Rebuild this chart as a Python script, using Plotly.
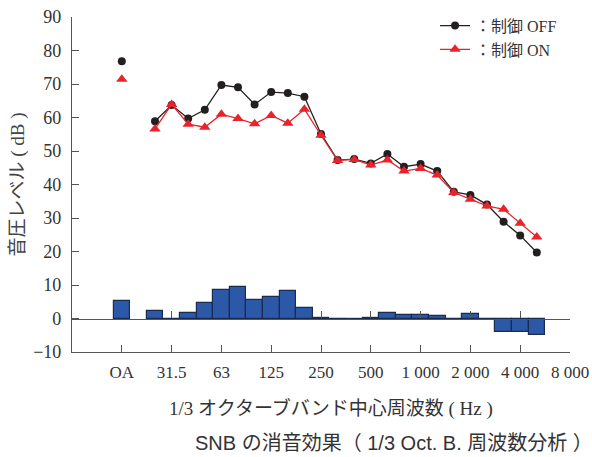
import plotly.graph_objects as go

# 1/3 octave band centre frequencies (Hz) of the measured spectrum
bands = ["25", "31.5", "40", "50", "63", "80", "100", "125", "160", "200", "250", "315",
         "400", "500", "630", "800", "1000", "1250", "1600", "2000", "2500", "3150",
         "4000", "5000"]

# Overall (OA) sound pressure levels, dB
oa_off = 76.8
oa_on = 71.4

# Band sound pressure levels, dB
level_off = [58.9, 63.7, 59.7, 62.3, 69.7, 69.0, 63.9, 67.6, 67.3, 66.2, 55.1, 47.3,
             47.6, 46.3, 49.1, 45.3, 46.1, 44.0, 37.8, 36.9, 34.0, 28.9, 24.8, 19.7]
level_on = [56.6, 63.9, 58.0, 57.1, 61.0, 59.7, 58.1, 60.6, 58.3, 62.5, 54.7, 47.2,
            47.5, 45.8, 47.3, 44.0, 44.8, 42.8, 37.6, 35.6, 33.6, 32.6, 28.4, 24.3]

# Noise reduction (control OFF minus control ON), dB
reduction_oa = 5.2
reduction = [2.1, 0.0, 1.5, 4.7, 8.4, 9.4, 5.5, 6.3, 8.3, 3.2, 0.3, 0.0,
             -0.4, 0.3, 1.5, 1.0, 1.0, 0.7, 0.0, 1.2, 0.0, -4.1, -4.1, -4.9]

tick_labels = ["OA", "31.5", "63", "125", "250", "500", "1 000", "2 000", "4 000", "8 000"]

# Horizontal layout: one unit per 1/3 octave band, 31.5 Hz at 0, OA set apart at -3
band_x = [i - 1 for i in range(len(bands))]
oa_x = -3
tick_x = [oa_x] + [3 * k for k in range(len(tick_labels) - 1)]

SERIF = "Liberation Serif, Noto Sans CJK JP, serif"
SANS = "Liberation Sans, Noto Sans CJK JP, sans-serif"
AXIS = "#555555"
TEXT = "#333333"
BLACK = "#231f20"
RED = "#e8232b"

fig = go.Figure()

fig.add_trace(go.Bar(
    x=[oa_x] + band_x, y=[reduction_oa] + reduction, width=1,
    marker=dict(color="#2c59a7", line=dict(color="#1b2b50", width=1.2)),
    showlegend=False, hoverinfo="skip",
))

fig.add_trace(go.Scatter(
    x=band_x, y=level_off, mode="lines+markers", name="：制御 OFF",
    line=dict(color=BLACK, width=1.3),
    marker=dict(symbol="circle", size=8, color=BLACK),
))
fig.add_trace(go.Scatter(
    x=band_x, y=level_on, mode="lines+markers", name="：制御 ON",
    line=dict(color=RED, width=1.3),
    marker=dict(symbol="triangle-up", size=10, color=RED),
))
fig.add_trace(go.Scatter(
    x=[oa_x], y=[oa_off], mode="markers", showlegend=False,
    marker=dict(symbol="circle", size=8, color=BLACK),
))
fig.add_trace(go.Scatter(
    x=[oa_x], y=[oa_on], mode="markers", showlegend=False,
    marker=dict(symbol="triangle-up", size=10, color=RED),
))

# empty trace that carries the tick line drawn through y = 0
fig.add_trace(go.Scatter(x=[None], y=[None], xaxis="x2", showlegend=False, hoverinfo="skip"))

y_ticks = list(range(-10, 91, 10))
y_text = [("−" + str(-v)) if v < 0 else str(v) for v in y_ticks]

fig.update_layout(
    width=592, height=457,
    margin=dict(l=72, r=22, t=17, b=105, autoexpand=False),
    paper_bgcolor="white", plot_bgcolor="white",
    bargap=0,
    xaxis=dict(
        range=[-6, 24], tickvals=tick_x, ticktext=tick_labels,
        showline=True, linecolor=AXIS, linewidth=1.2,
        ticks="inside", ticklen=7, tickcolor=AXIS, tickwidth=1.2,
        showgrid=False, zeroline=False, ticklabelstandoff=4,
        tickfont=dict(family=SERIF, size=17, color=TEXT),
    ),
    xaxis2=dict(
        overlaying="x", anchor="free", position=0.1, side="bottom",
        range=[-6, 24], tickvals=tick_x, showticklabels=False,
        showline=True, linecolor=AXIS, linewidth=1.2,
        ticks="inside", ticklen=7, tickcolor=AXIS, tickwidth=1.2,
        showgrid=False, zeroline=False,
    ),
    yaxis=dict(
        range=[-10, 90], tickvals=y_ticks, ticktext=y_text,
        showline=True, linecolor=AXIS, linewidth=1.2,
        ticks="inside", ticklen=7, tickcolor=AXIS, tickwidth=1.2,
        showgrid=False, zeroline=False, ticklabelstandoff=6,
        tickfont=dict(family=SERIF, size=18, color=TEXT),
        title=dict(text="音圧レベル ( dB )", standoff=3,
                   font=dict(family=SERIF, size=19, color="#444444")),
    ),
    legend=dict(
        x=0.729, y=1.025, xanchor="left", yanchor="top",
        bgcolor="rgba(0,0,0,0)", tracegroupgap=0,
        font=dict(family=SERIF, size=16, color=TEXT),
    ),
    annotations=[
        dict(text="1/3 オクターブバンド中心周波数 ( Hz )", xref="paper", yref="paper",
             x=0.52, y=-0.17, xanchor="center", yanchor="middle", showarrow=False,
             font=dict(family=SERIF, size=19, color=TEXT)),
        dict(text="SNB の消音効果（ 1/3 Oct. B. 周波数分析 ）", xref="paper", yref="paper",
             x=0.646, y=-0.272, xanchor="center", yanchor="middle", showarrow=False,
             font=dict(family=SANS, size=20, color=TEXT)),
    ],
)

fig.write_html("out.html")
